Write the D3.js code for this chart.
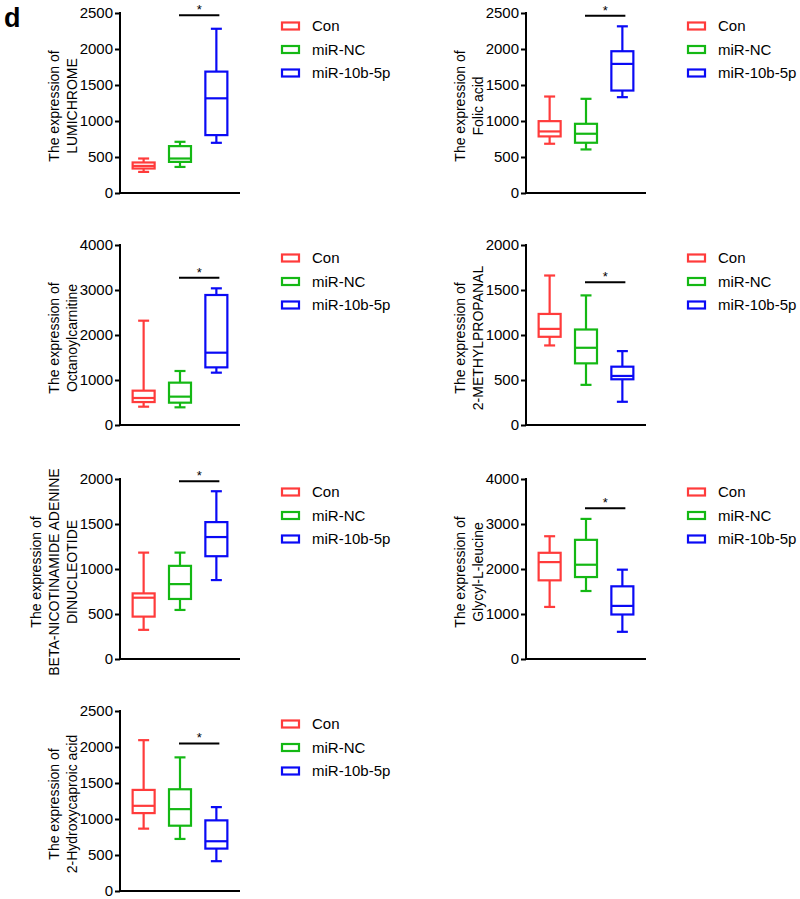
<!DOCTYPE html>
<html>
<head>
<meta charset="utf-8">
<script src="https://cdn.jsdelivr.net/npm/d3@7"></script>
<style>
    body { margin: 0; background: #fff; }
    svg text { font-family: "Liberation Sans", Arial, sans-serif; fill: #000; }
</style>
</head>
<body>
<svg id="chart" width="800" height="899"></svg>
<script>
const groups = ["Con", "miR-NC", "miR-10b-5p"];
const colors = ["#ff3b3b", "#14b814", "#0a0af5"];

// five-number summaries per group: [min, q1, median, q3, max]
const lumichrome      = [[293, 340, 376, 424, 479], [362, 432, 479, 651, 711], [697, 804, 1315, 1686, 2281]];
const folicAcid       = [[684, 786, 855, 998, 1340], [605, 698, 823, 961, 1308], [1331, 1423, 1793, 1969, 2315]];
const octanoyl        = [[407, 510, 600, 763, 2318], [393, 496, 630, 941, 1200], [1163, 1281, 1607, 2889, 3037]];
const methylpropanal  = [[884, 980, 1068, 1234, 1661], [446, 685, 858, 1061, 1440], [258, 508, 545, 648, 821]];
const nad             = [[324, 471, 681, 729, 1182], [545, 667, 832, 1035, 1182], [877, 1142, 1355, 1521, 1864]];
const glycylLeucine   = [[1157, 1748, 2153, 2360, 2728], [1511, 1821, 2095, 2648, 3113], [604, 989, 1180, 1615, 1985]];
const hydroxycaproic  = [[866, 1082, 1183, 1404, 2095], [723, 907, 1137, 1413, 1856], [414, 589, 691, 981, 1165]];

const yMax   = [2500, 2500, 4000, 2000, 2000, 4000, 2500];
const yStep  = [500, 500, 1000, 500, 500, 1000, 500];
// height of the significance bar (miR-NC vs miR-10b-5p)
const sigBar = [2470, 2463, 3274, 1587, 1974, 3348, 2049];

const labels = [
    ["The expression of", "LUMICHROME"],
    ["The expression of", "Folic acid"],
    ["The expression of", "Octanoylcarnitine"],
    ["The expression of", "2-METHYLPROPANAL"],
    ["The expression of", "BETA-NICOTINAMIDE ADENINE", "DINUCLEOTIDE"],
    ["The expression of", "Glycyl-L-leucine"],
    ["The expression of", "2-Hydroxycaproic acid"]
];
const series = [lumichrome, folicAcid, octanoyl, methylpropanal, nad, glycylLeucine, hydroxycaproic];

const svg = d3.select("#chart");
const colX = [120, 526], rowY = [13, 245, 479, 711];
const plotW = 120, plotH = 180;
const boxW = 22, capW = 11;

svg.append("text")
    .attr("x", 4).attr("y", 27)
    .style("font-size", "27px").style("font-weight", "bold")
    .text("d");

series.forEach(function (data, i) {
    const x0 = colX[i % 2], y0 = rowY[Math.floor(i / 2)];
    const g = svg.append("g").attr("transform", "translate(" + x0 + "," + y0 + ")");

    const x = d3.scalePoint().domain(groups).range([0, plotW]).padding(0.65);
    const y = d3.scaleLinear().domain([0, yMax[i]]).range([plotH, 0]);

    // axes
    const ya = g.append("g")
        .call(d3.axisLeft(y).tickValues(d3.range(0, yMax[i] + 1, yStep[i]))
            .tickFormat(d3.format("d"))
            .tickSize(5).tickPadding(2));
    ya.select(".domain").attr("stroke-width", 2).attr("d", "M0," + (plotH + 1) + "V-1");
    ya.selectAll(".tick line").attr("stroke-width", 2);
    ya.selectAll(".tick text").style("font-size", "15px");

    g.append("line")
        .attr("x1", -1).attr("x2", plotW)
        .attr("y1", plotH).attr("y2", plotH)
        .attr("stroke", "#000").attr("stroke-width", 2);

    // y label, last line closest to the axis
    const lab = labels[i];
    const lt = g.append("text")
        .attr("transform", "translate(" + (-43 - 18 * (lab.length - 1)) + "," + (plotH / 2 + 3) + ") rotate(-90)")
        .attr("text-anchor", "middle")
        .style("font-size", "14px");
    lab.forEach(function (s, k) {
        lt.append("tspan").attr("x", 0).attr("dy", k === 0 ? 0 : 18).text(s);
    });

    // boxes
    const b = g.selectAll("g.box").data(data).enter().append("g")
        .attr("class", "box")
        .attr("stroke", (d, k) => colors[k])
        .attr("stroke-width", 2.2)
        .attr("fill", "none");
    const cx = (d, k) => x(groups[k]);
    b.append("line").attr("x1", cx).attr("x2", cx).attr("y1", d => y(d[0])).attr("y2", d => y(d[1]));
    b.append("line").attr("x1", cx).attr("x2", cx).attr("y1", d => y(d[3])).attr("y2", d => y(d[4]));
    b.append("line").attr("x1", (d, k) => cx(d, k) - capW / 2).attr("x2", (d, k) => cx(d, k) + capW / 2)
        .attr("y1", d => y(d[0])).attr("y2", d => y(d[0]));
    b.append("line").attr("x1", (d, k) => cx(d, k) - capW / 2).attr("x2", (d, k) => cx(d, k) + capW / 2)
        .attr("y1", d => y(d[4])).attr("y2", d => y(d[4]));
    b.append("rect")
        .attr("x", (d, k) => cx(d, k) - boxW / 2).attr("width", boxW)
        .attr("y", d => y(d[3])).attr("height", d => y(d[1]) - y(d[3]));
    b.append("line").attr("x1", (d, k) => cx(d, k) - boxW / 2).attr("x2", (d, k) => cx(d, k) + boxW / 2)
        .attr("y1", d => y(d[2])).attr("y2", d => y(d[2]));

    // significance bar
    const sx1 = x(groups[1]) - 1, sx2 = x(groups[2]) + 3, sy = y(sigBar[i]);
    g.append("line")
        .attr("x1", sx1).attr("x2", sx2).attr("y1", sy).attr("y2", sy)
        .attr("stroke", "#000").attr("stroke-width", 2);
    g.append("text")
        .attr("x", (sx1 + sx2) / 2).attr("y", sy - 1)
        .attr("text-anchor", "middle")
        .style("font-size", "13px")
        .text("*");

    // legend
    const lg = g.selectAll("g.leg").data(groups).enter().append("g")
        .attr("class", "leg")
        .attr("transform", (d, k) => "translate(162," + (13 + k * 23.5) + ")");
    lg.append("rect")
        .attr("x", 0).attr("y", -3.5).attr("width", 17).attr("height", 7)
        .attr("fill", "none").attr("stroke-width", 2.2)
        .attr("stroke", (d, k) => colors[k]);
    lg.append("text")
        .attr("x", 30).attr("dy", "0.35em")
        .style("font-size", "15px")
        .text(d => d);
});
</script>
</body>
</html>
